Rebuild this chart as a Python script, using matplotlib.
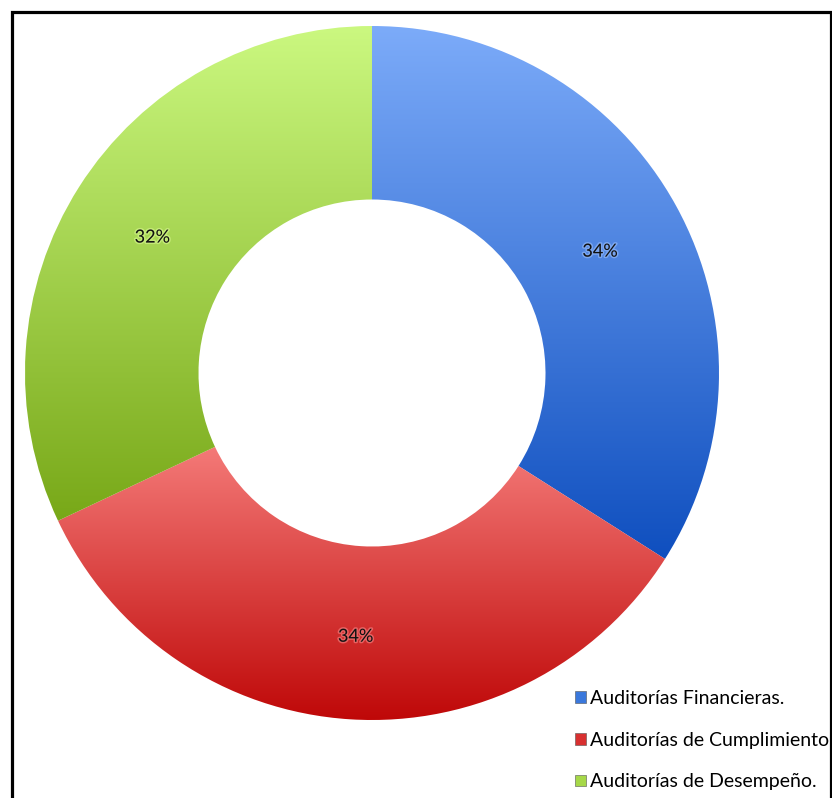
import numpy as np
import matplotlib
matplotlib.use("Agg")
import matplotlib.pyplot as plt
from matplotlib.colors import LinearSegmentedColormap
from matplotlib.patches import Patch, Rectangle
import matplotlib.patheffects as pe

# Share of audits by type
categories = ["Auditorías Financieras.", "Auditorías de Cumplimiento", "Auditorías de Desempeño."]
values = [34, 34, 32]

# Gradient (top colour, bottom colour) for each slice
top_colors = ["#7cabf9", "#f47a78", "#cbf880"]
bottom_colors = ["#0f4fbf", "#bf0808", "#78a818"]
legend_colors = ["#3a78dc", "#d83030", "#a6d848"]
glow_colors = ["#a8c8ff", "#ff9a9a", "#e2ff9c"]

W, H = 832, 798
fig = plt.figure(figsize=(W / 100, H / 100), dpi=100)
ax = fig.add_axes([0, 0, 1, 1])

center = (372, H - 373)
radius = 347

wedges, texts, autotexts = ax.pie(
    values,
    startangle=90,
    counterclock=False,
    radius=radius,
    center=center,
    frame=True,
    autopct="%.0f%%",
    pctdistance=0.75,
    wedgeprops=dict(width=radius * 0.5, linewidth=0, facecolor="none"),
    textprops=dict(family=["Lato", "DejaVu Sans"], fontsize=13, color="#111111"),
)

# Vertical gradient fill clipped to each ring segment
for w, c_top, c_bot in zip(wedges, top_colors, bottom_colors):
    ext = w.get_path().get_extents()
    cmap = LinearSegmentedColormap.from_list("g", [c_bot, c_top])
    grad = np.linspace(0, 1, 256).reshape(-1, 1)
    im = ax.imshow(
        grad, cmap=cmap, origin="lower", aspect="auto",
        extent=(ext.x0, ext.x1, ext.y0, ext.y1), zorder=1,
        interpolation="bilinear",
    )
    im.set_clip_path(w)

for t, g in zip(autotexts, glow_colors):
    x, y = t.get_position()
    t.set_position((x, y - 4))
    t.set_zorder(5)
    t.set_path_effects([pe.withStroke(linewidth=2.2, foreground=g, alpha=0.5)])

ax.set_xlim(0, W)
ax.set_ylim(0, H)
ax.set_aspect("equal")
ax.axis("off")

# Frame around the chart area
ax.add_patch(Rectangle((12, -20), 819, H - 12 + 20, fill=False,
                       edgecolor="black", linewidth=2.3, zorder=6,
                       clip_on=False))

handles = [Patch(facecolor=c, edgecolor="#555555", linewidth=0.4) for c in legend_colors]
leg = ax.legend(
    handles, categories,
    loc="upper left",
    bbox_to_anchor=(575 / W, 1 - 690 / H),
    frameon=False,
    prop=dict(family=["Lato", "DejaVu Sans"], size=14),
    handlelength=0.55, handleheight=0.55,
    handletextpad=0.2,
    labelspacing=1.27,
    borderaxespad=0, borderpad=0,
)
leg.set_zorder(5)

fig.savefig("out.png", dpi=100)
